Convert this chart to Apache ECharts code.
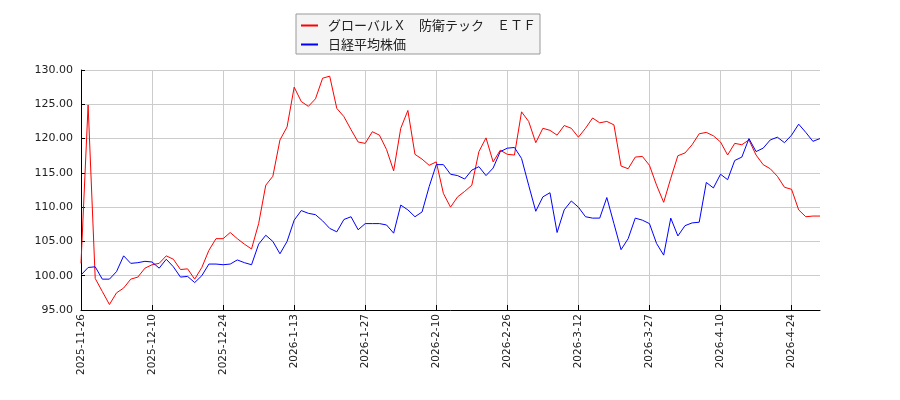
<!DOCTYPE html>
<html lang="ja">
  <head>
    <meta charset="utf-8" />
    <script type="text/javascript" src="https://cdn.jsdelivr.net/npm/echarts@6.0.0/dist/echarts.min.js"></script>
    <title>グローバルＸ　防衛テック　ＥＴＦ と 日経平均株価</title>
    <style>
      html, body { margin: 0; padding: 0; background: #fff; }
      #chart { width: 900px; height: 400px; }
    </style>
  </head>
  <body>
    <div id="chart"></div>
    <script>
      // 取引日 (東証)
      var dates = [
        '2025-11-26', '2025-11-27', '2025-11-28', '2025-12-1', '2025-12-2', '2025-12-3', '2025-12-4', '2025-12-5', '2025-12-8', '2025-12-9',
        '2025-12-10', '2025-12-11', '2025-12-12', '2025-12-15', '2025-12-16', '2025-12-17', '2025-12-18', '2025-12-19', '2025-12-22', '2025-12-23',
        '2025-12-24', '2025-12-25', '2025-12-26', '2025-12-29', '2025-12-30', '2026-1-5', '2026-1-6', '2026-1-7', '2026-1-8', '2026-1-9',
        '2026-1-13', '2026-1-14', '2026-1-15', '2026-1-16', '2026-1-19', '2026-1-20', '2026-1-21', '2026-1-22', '2026-1-23', '2026-1-26',
        '2026-1-27', '2026-1-28', '2026-1-29', '2026-1-30', '2026-2-2', '2026-2-3', '2026-2-4', '2026-2-5', '2026-2-6', '2026-2-9',
        '2026-2-10', '2026-2-12', '2026-2-13', '2026-2-16', '2026-2-17', '2026-2-18', '2026-2-19', '2026-2-20', '2026-2-24', '2026-2-25',
        '2026-2-26', '2026-2-27', '2026-3-2', '2026-3-3', '2026-3-4', '2026-3-5', '2026-3-6', '2026-3-9', '2026-3-10', '2026-3-11',
        '2026-3-12', '2026-3-13', '2026-3-16', '2026-3-17', '2026-3-18', '2026-3-19', '2026-3-23', '2026-3-24', '2026-3-25', '2026-3-26',
        '2026-3-27', '2026-3-30', '2026-3-31', '2026-4-1', '2026-4-2', '2026-4-3', '2026-4-6', '2026-4-7', '2026-4-8', '2026-4-9',
        '2026-4-10', '2026-4-13', '2026-4-14', '2026-4-15', '2026-4-16', '2026-4-17', '2026-4-20', '2026-4-21', '2026-4-22', '2026-4-23',
        '2026-4-24', '2026-4-27', '2026-4-28', '2026-4-30', '2026-5-1'
      ]

      var etfName = 'グローバルＸ　防衛テック　ＥＴＦ'
      var nikkeiName = '日経平均株価'

      // 起点を100とした推移
      var etfValues = [
        101.8, 124.9, 99.6, 97.7, 95.8, 97.5, 98.2, 99.5, 99.8, 101.1,
        101.6, 101.8, 102.9, 102.4, 100.9, 101.0, 99.5, 101.2, 103.7, 105.4,
        105.4, 106.3, 105.4, 104.6, 103.9, 107.6, 113.2, 114.5, 119.8, 121.7,
        127.5, 125.4, 124.7, 125.8, 128.8, 129.1, 124.4, 123.2, 121.3, 119.5,
        119.3, 121.0, 120.5, 118.4, 115.3, 121.5, 124.1, 117.7, 117.0, 116.1,
        116.6, 112.0, 110.0, 111.5, 112.3, 113.2, 118.1, 120.1, 116.6, 118.3,
        117.7, 117.6, 123.9, 122.5, 119.4, 121.5, 121.2, 120.5, 121.9, 121.5,
        120.2, 121.5, 123.0, 122.3, 122.5, 122.0, 116.0, 115.6, 117.3, 117.4,
        116.1, 113.2, 110.7, 114.2, 117.5, 117.9, 119.1, 120.7, 120.9, 120.4,
        119.5, 117.6, 119.3, 119.1, 119.8, 117.6, 116.2, 115.6, 114.5, 112.9,
        112.6, 109.6, 108.6, 108.7, 108.7
      ]
      var nikkeiValues = [
        100.1, 101.2, 101.3, 99.5, 99.5, 100.6, 102.9, 101.8, 101.9, 102.1,
        102.0, 101.1, 102.4, 101.3, 99.8, 99.9, 99.0, 100.0, 101.7, 101.7,
        101.6, 101.7, 102.3, 101.9, 101.6, 104.6, 105.9, 105.0, 103.2, 105.0,
        108.1, 109.5, 109.1, 108.9, 108.0, 106.9, 106.4, 108.2, 108.6, 106.7,
        107.6, 107.6, 107.6, 107.4, 106.2, 110.3, 109.6, 108.6, 109.3, 113.0,
        116.2, 116.2, 114.8, 114.6, 114.1, 115.4, 115.9, 114.6, 115.7, 118.1,
        118.6, 118.7, 117.1, 113.2, 109.4, 111.5, 112.1, 106.3, 109.6, 110.9,
        110.0, 108.6, 108.4, 108.4, 111.4, 107.6, 103.8, 105.4, 108.4, 108.1,
        107.6, 104.7, 103.0, 108.4, 105.8, 107.3, 107.7, 107.8, 113.6, 112.8,
        114.8, 114.0, 116.8, 117.3, 120.0, 118.1, 118.6, 119.8, 120.2, 119.4,
        120.5, 122.1, 120.9, 119.6, 120.0
      ]

      var chart = echarts.init(document.getElementById('chart'))
      chart.setOption({
        animation: false,
        backgroundColor: '#fff',
        grid: { left: 81, right: 80, top: 70, bottom: 90 },
        legend: {
          orient: 'vertical',
          left: 296,
          top: 14,
          padding: [5, 4, 3, 5],
          itemGap: 6,
          itemWidth: 17,
          itemHeight: 2,
          icon: 'rect',
          backgroundColor: '#f4f4f4',
          borderColor: '#999',
          borderWidth: 1,
          textStyle: {
            fontFamily: '"Noto Sans CJK JP", sans-serif',
            fontSize: 13,
            color: '#222',
            padding: [0, 0, 0, 5]
          },
          data: [etfName, nikkeiName]
        },
        xAxis: {
          type: 'category',
          data: dates,
          boundaryGap: false,
          axisLine: { lineStyle: { color: '#000', width: 1 } },
          axisTick: { inside: true, length: 5, interval: 9, lineStyle: { color: '#000' } },
          axisLabel: {
            interval: 9,
            rotate: 90,
            margin: 4,
            fontFamily: 'DejaVu Sans',
            fontSize: 10.5,
            color: '#222'
          },
          splitLine: { show: true, interval: 9, lineStyle: { color: '#ccc', width: 1 } }
        },
        yAxis: {
          type: 'value',
          min: 95,
          max: 130,
          interval: 5,
          axisLine: { show: true, lineStyle: { color: '#000', width: 1 } },
          axisTick: { show: true, inside: true, length: 4, lineStyle: { color: '#000' } },
          axisLabel: {
            margin: 8,
            fontFamily: 'DejaVu Sans',
            fontSize: 11,
            color: '#222',
            formatter: function (v) { return v.toFixed(2) }
          },
          splitLine: { show: true, lineStyle: { color: '#ccc', width: 1 } }
        },
        series: [
          {
            name: etfName,
            type: 'line',
            data: etfValues,
            showSymbol: false,
            symbol: 'none',
            lineStyle: { color: '#ff0000', width: 1 },
            itemStyle: { color: '#ff0000' }
          },
          {
            name: nikkeiName,
            type: 'line',
            data: nikkeiValues,
            showSymbol: false,
            symbol: 'none',
            lineStyle: { color: '#0000ff', width: 1 },
            itemStyle: { color: '#0000ff' }
          }
        ]
      })
    </script>
  </body>
</html>
